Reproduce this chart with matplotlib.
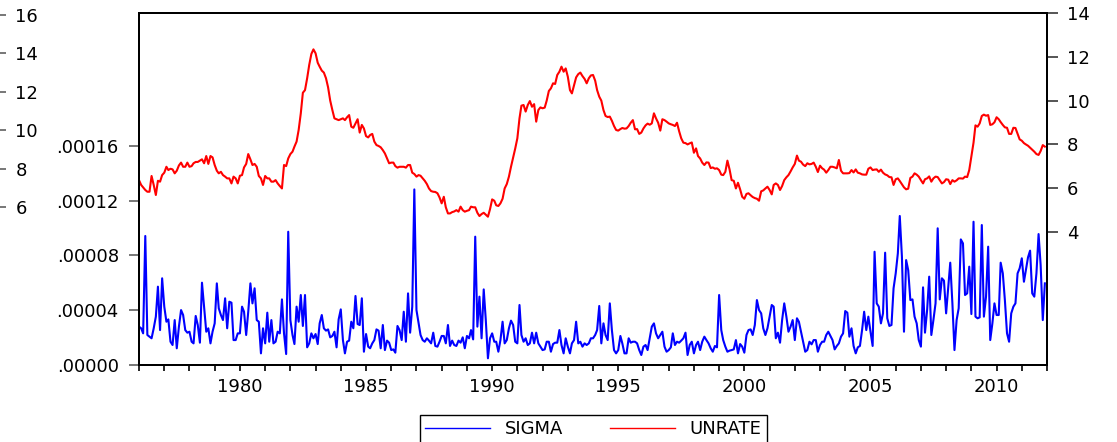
import numpy as np
import pandas as pd
import matplotlib
matplotlib.use('Agg')
import matplotlib.pyplot as plt
import matplotlib.dates as mdates
from matplotlib.ticker import FixedLocator, FuncFormatter

# monthly observations, Jan 1976 .. Dec 2011
fechas = pd.date_range('1976-01-01', periods=432, freq='MS')

# SIGMA (units of 1e-5), one year per row
sigma_e5 = [
    2.80, 2.68, 2.31, 9.42, 2.19, 2.07, 1.95, 2.68, 3.53, 5.72, 2.55, 6.33,
    4.26, 3.16, 3.33, 1.70, 1.46, 3.28, 1.22, 2.80, 4.01, 3.65, 2.55, 2.36,
    2.43, 1.70, 1.58, 3.58, 2.92, 1.63, 6.01, 4.26, 2.43, 2.68, 1.58, 2.43,
    3.04, 5.96, 4.14, 3.65, 3.28, 4.87, 2.68, 4.62, 4.55, 1.82, 1.82, 2.31,
    2.31, 4.26, 3.89, 2.19, 3.89, 5.96, 4.50, 5.60, 3.28, 3.16, 0.85, 2.68,
    1.58, 3.82, 1.70, 3.28, 1.58, 1.70, 2.43, 2.31, 4.79, 2.31, 0.80, 9.73,
    3.28, 2.19, 1.53, 4.26, 3.16, 5.11, 2.85, 5.11, 1.29, 1.58, 2.31, 1.95,
    2.26, 1.53, 3.04, 3.65, 2.68, 2.51, 2.60, 2.02, 2.12, 2.43, 1.29, 3.33,
    4.06, 1.82, 0.85, 1.70, 1.78, 3.16, 2.68, 5.04, 2.99, 2.92, 4.87, 0.97,
    2.26, 1.34, 1.22, 1.58, 1.82, 2.60, 2.51, 1.22, 2.92, 1.09, 1.78, 1.63,
    1.09, 1.14, 0.90, 2.85, 2.55, 1.82, 3.89, 1.70, 5.23, 2.36, 4.26, 12.82,
    4.01, 3.04, 2.19, 1.82, 1.70, 1.95, 1.78, 1.58, 2.36, 1.39, 1.34, 1.70,
    2.12, 2.12, 1.58, 2.92, 1.39, 1.78, 1.46, 1.39, 1.78, 1.63, 2.02, 1.22,
    2.12, 1.95, 2.55, 1.87, 9.37, 2.80, 4.99, 1.95, 5.52, 3.28, 0.49, 1.95,
    2.31, 1.70, 1.70, 0.97, 1.82, 3.16, 1.58, 1.82, 2.68, 3.24, 2.92, 1.70,
    1.58, 4.38, 2.19, 1.70, 1.95, 1.46, 1.58, 2.36, 1.58, 2.36, 1.58, 1.34,
    1.09, 1.14, 1.70, 1.70, 0.97, 1.53, 1.63, 1.63, 2.55, 1.46, 0.85, 1.95,
    1.34, 0.85, 1.58, 1.82, 3.16, 1.58, 1.70, 1.34, 1.58, 1.46, 1.58, 1.95,
    1.95, 2.19, 2.55, 4.31, 1.58, 3.04, 2.19, 1.82, 4.50, 2.55, 1.09, 0.85,
    1.09, 2.12, 1.58, 0.85, 0.85, 1.95, 1.63, 1.70, 1.70, 1.58, 1.09, 0.73,
    1.34, 1.46, 1.09, 1.95, 2.80, 3.04, 2.31, 1.95, 2.19, 2.43, 1.34, 0.97,
    1.09, 1.29, 2.31, 1.46, 1.70, 1.63, 1.78, 1.95, 2.36, 0.73, 1.46, 1.70,
    0.85, 1.46, 1.70, 1.09, 1.70, 2.07, 1.82, 1.58, 1.22, 0.97, 1.39, 1.29,
    5.11, 2.55, 1.82, 1.34, 0.97, 1.05, 1.09, 1.14, 1.82, 0.85, 1.53, 1.34,
    0.90, 2.19, 2.55, 2.60, 2.19, 2.92, 4.74, 4.01, 3.77, 2.68, 2.19, 2.68,
    3.53, 4.38, 4.26, 1.95, 2.36, 1.63, 3.28, 4.50, 3.53, 2.43, 2.80, 3.28,
    1.82, 3.41, 3.16, 2.43, 1.70, 0.97, 1.09, 1.70, 1.51, 1.82, 1.82, 0.97,
    1.46, 1.70, 1.70, 2.19, 2.43, 2.12, 1.82, 1.14, 1.39, 1.58, 2.07, 2.31,
    3.94, 3.82, 2.07, 2.68, 1.39, 0.85, 1.29, 1.39, 2.55, 3.89, 2.55, 3.53,
    2.43, 1.39, 8.27, 4.50, 4.26, 3.04, 3.77, 8.20, 3.41, 2.85, 2.92, 5.60,
    6.69, 8.15, 10.88, 7.91, 2.43, 7.66, 6.93, 4.74, 4.79, 3.53, 3.04, 1.82,
    1.34, 5.67, 2.36, 4.01, 6.45, 2.19, 3.28, 4.50, 9.98, 4.79, 6.33, 6.16,
    3.77, 5.72, 7.47, 4.50, 1.09, 3.28, 4.14, 9.17, 8.88, 5.11, 5.23, 7.18,
    3.72, 10.46, 3.53, 3.41, 3.48, 10.22, 3.53, 4.99, 8.64, 1.82, 3.04, 4.50,
    3.65, 3.65, 7.47, 6.69, 4.74, 2.31, 1.70, 3.77, 4.26, 4.50, 6.69, 7.06,
    7.79, 6.08, 6.93, 7.86, 8.35, 5.23, 4.99, 6.69, 9.56, 7.30, 3.28, 5.96,
]

unrate = [
    6.37, 6.15, 6.04, 5.92, 5.84, 5.84, 6.56, 6.15, 5.69, 6.34, 6.30, 6.60,
    6.71, 6.98, 6.83, 6.89, 6.86, 6.68, 6.80, 7.04, 7.17, 6.98, 6.98, 7.17,
    6.98, 7.01, 7.14, 7.20, 7.20, 7.26, 7.32, 7.14, 7.47, 7.11, 7.47, 7.41,
    7.06, 6.80, 6.68, 6.75, 6.60, 6.53, 6.45, 6.45, 6.22, 6.53, 6.45, 6.22,
    6.57, 6.60, 6.95, 7.11, 7.56, 7.32, 7.06, 7.11, 6.98, 6.56, 6.45, 6.15,
    6.56, 6.45, 6.45, 6.30, 6.30, 6.37, 6.22, 6.10, 5.99, 7.06, 7.01, 7.36,
    7.56, 7.67, 7.90, 8.13, 8.66, 9.42, 10.36, 10.48, 11.02, 11.63, 12.13, 12.34,
    12.16, 11.73, 11.55, 11.37, 11.28, 11.02, 10.61, 10.00, 9.57, 9.19, 9.15, 9.11,
    9.15, 9.19, 9.11, 9.24, 9.34, 8.81, 8.76, 8.96, 9.15, 8.54, 8.89, 8.73,
    8.38, 8.32, 8.43, 8.48, 8.13, 7.97, 7.93, 7.87, 7.74, 7.59, 7.36, 7.14,
    7.17, 7.17, 7.01, 6.94, 6.98, 6.98, 6.98, 6.94, 7.06, 7.06, 6.71, 6.65,
    6.53, 6.60, 6.57, 6.45, 6.34, 6.19, 5.99, 5.87, 5.84, 5.83, 5.77, 5.58,
    5.31, 5.61, 5.13, 4.85, 4.85, 4.91, 4.94, 5.00, 4.93, 5.16, 5.00, 4.93,
    4.97, 5.00, 5.16, 5.13, 5.13, 4.88, 4.73, 4.82, 4.88, 4.79, 4.70, 5.04,
    5.49, 5.43, 5.22, 5.19, 5.31, 5.52, 5.99, 6.19, 6.53, 6.98, 7.41, 7.81,
    8.28, 9.19, 9.77, 9.80, 9.50, 9.80, 9.98, 9.72, 9.84, 9.04, 9.57, 9.69,
    9.65, 9.68, 10.00, 10.44, 10.56, 10.79, 10.76, 11.17, 11.32, 11.55, 11.32, 11.47,
    11.09, 10.48, 10.33, 10.71, 11.06, 11.21, 11.28, 11.12, 10.99, 10.79, 11.02, 11.15,
    11.17, 10.91, 10.48, 10.18, 10.00, 9.57, 9.30, 9.25, 9.27, 9.08, 8.84, 8.66,
    8.63, 8.70, 8.75, 8.72, 8.73, 8.84, 8.99, 9.11, 8.69, 8.70, 8.48, 8.54,
    8.73, 8.87, 8.95, 8.90, 8.96, 9.42, 9.19, 8.99, 8.63, 9.15, 9.11, 9.04,
    8.96, 8.92, 8.89, 8.84, 8.99, 8.60, 8.28, 8.08, 8.06, 8.00, 8.05, 8.09,
    7.62, 7.82, 7.47, 7.36, 7.17, 7.06, 7.18, 7.17, 6.92, 6.95, 6.89, 6.91,
    6.83, 6.62, 6.60, 6.75, 7.26, 6.86, 6.37, 6.34, 5.99, 6.25, 5.95, 5.61,
    5.52, 5.74, 5.77, 5.68, 5.60, 5.55, 5.52, 5.43, 5.86, 5.90, 5.99, 6.07,
    5.92, 5.72, 6.15, 6.22, 6.15, 5.92, 6.10, 6.37, 6.50, 6.60, 6.77, 6.95,
    7.11, 7.49, 7.26, 7.21, 7.08, 7.01, 7.14, 7.09, 7.11, 7.17, 6.98, 6.74,
    7.03, 6.91, 6.85, 6.71, 6.83, 6.98, 6.98, 6.95, 6.91, 7.29, 6.80, 6.68,
    6.68, 6.68, 6.69, 6.83, 6.72, 6.86, 6.71, 6.68, 6.63, 6.62, 6.62, 6.89,
    6.95, 6.83, 6.85, 6.86, 6.75, 6.85, 6.71, 6.63, 6.59, 6.51, 6.50, 6.15,
    6.41, 6.45, 6.33, 6.18, 6.04, 5.95, 5.98, 6.47, 6.53, 6.68, 6.62, 6.53,
    6.37, 6.22, 6.41, 6.45, 6.54, 6.30, 6.45, 6.53, 6.51, 6.37, 6.22, 6.28,
    6.41, 6.39, 6.19, 6.37, 6.30, 6.36, 6.45, 6.45, 6.44, 6.53, 6.51, 6.83,
    7.44, 8.08, 8.87, 8.81, 8.96, 9.30, 9.36, 9.31, 9.34, 8.89, 8.92, 9.01,
    9.24, 9.15, 9.02, 8.89, 8.78, 8.76, 8.48, 8.48, 8.76, 8.75, 8.48, 8.23,
    8.17, 8.06, 8.00, 7.94, 7.85, 7.76, 7.67, 7.56, 7.52, 7.70, 7.97, 7.90,
]

sigma_ticks = [0.0, 0.00004, 0.00008, 0.00012, 0.00016]
unrate_ticks = [4, 6, 8, 10, 12, 14]
outer_ticks = [6, 8, 10, 12, 14, 16]
year_labels = [1980, 1985, 1990, 1995, 2000, 2005, 2010]

sigma = np.array(sigma_e5) * 1e-5

plt.rcParams['font.family'] = ['DejaVu Sans']
plt.rcParams['font.size'] = 13

W, H = 1117, 442
fig = plt.figure(figsize=(W / 100, H / 100), dpi=100)

# main axes (pixel box 139..1047 x 13..365)
ax = fig.add_axes([139 / W, 1 - 365 / H, (1047 - 139) / W, (365 - 13) / H])
ax2 = ax.twinx()

l1, = ax.plot(fechas, sigma, color='#0000ff', lw=1.5)
l2, = ax2.plot(fechas, unrate, color='#ff0000', lw=1.5)

ax.set_xlim(pd.Timestamp('1976-01-01'), pd.Timestamp('2012-01-01'))
ax.set_ylim(0, 0.000257)
ax2.set_ylim(-2.07, 14)

ax.yaxis.set_major_locator(FixedLocator(sigma_ticks))
ax.yaxis.set_major_formatter(FuncFormatter(lambda v, p: f'{v:.5f}'.lstrip('0')))
ax2.yaxis.set_major_locator(FixedLocator(unrate_ticks))
ax2.yaxis.set_major_formatter(FuncFormatter(lambda v, p: f'{v:.0f}'))

ax.xaxis.set_major_locator(FixedLocator([mdates.date2num(pd.Timestamp(f'{y}-01-01')) for y in year_labels]))
ax.xaxis.set_major_formatter(mdates.DateFormatter('%Y'))
ax.xaxis.set_minor_locator(mdates.YearLocator(1))

for a in (ax, ax2):
    for s in a.spines.values():
        s.set_linewidth(1.4)
        s.set_color('black')

ax.tick_params(axis='x', which='both', direction='out', length=4, width=1.2, color='black', pad=5)
ax.tick_params(axis='y', direction='out', length=7.5, width=1.4, color='#777777', pad=7)
ax2.tick_params(axis='y', direction='out', length=8, width=1.4, color='#555555', pad=6.5)

# leftover scale at the far left edge of the picture
ax3 = fig.add_axes([-0.05, 1 - 207 / H, 0.05, 192 / H])
ax3.set_ylim(6, 16)
ax3.patch.set_visible(False)
for s in ax3.spines.values():
    s.set_visible(False)
ax3.set_xticks([])
ax3.yaxis.tick_right()
ax3.set_yticks(outer_ticks)
ax3.tick_params(axis='y', direction='out', length=4.5, width=1.4, color='#777777', pad=6.5)

leg = fig.legend([l1, l2], ['SIGMA', 'UNRATE'], loc='upper center',
                 bbox_to_anchor=(593.5 / W, 1 - 415 / H), ncol=2,
                 frameon=True, fancybox=False, edgecolor='black', framealpha=1,
                 borderpad=0.3, handlelength=3.6, handletextpad=0.8,
                 columnspacing=2.6, borderaxespad=0)
leg.get_frame().set_linewidth(1.0)
for h in leg.get_lines():
    h.set_linewidth(1.0)

fig.savefig('out.png', dpi=100)
